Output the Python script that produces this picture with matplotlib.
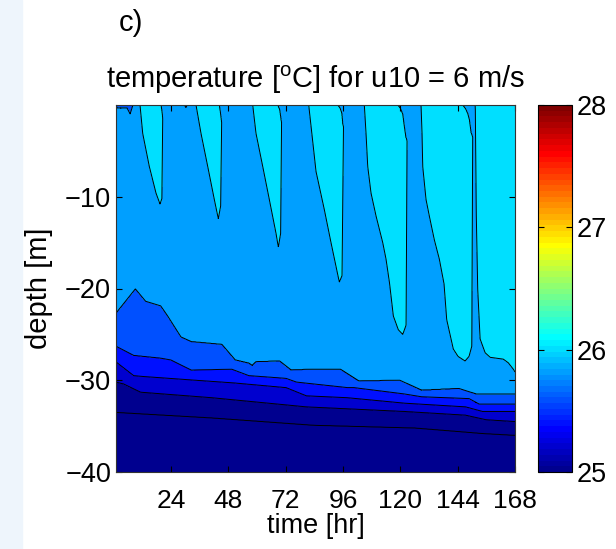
import numpy as np
import matplotlib
matplotlib.use('Agg')
import matplotlib.pyplot as plt
from matplotlib.colors import ListedColormap, Normalize
from matplotlib.cm import ScalarMappable
from matplotlib.patches import Rectangle

plt.rcParams['font.family'] = ['Liberation Sans', 'DejaVu Sans']
plt.rcParams['mathtext.fontset'] = 'custom'
plt.rcParams['mathtext.rm'] = 'Liberation Sans'

# isotherm depths [m] against time [hr]
t_iso250 = [1, 41, 83.6, 126.1, 154.4, 168]
d_iso250 = [33.5, 34.1, 34.9, 35.2, 35.8, 36.0]

t_iso252 = [1, 4.2, 11.3, 41, 80.7, 121.8, 147.3, 155.9, 168]
d_iso252 = [30.2, 30.4, 31.3, 31.9, 32.9, 33.4, 33.8, 34.3, 34.5]

t_iso254 = [1, 8.4, 12.7, 50.9, 72.2, 80.7, 97.7, 121.8, 147.3, 154.4, 168]
d_iso254 = [28.0, 29.5, 29.6, 30.3, 30.8, 31.7, 31.9, 32.5, 32.9, 33.4, 33.4]

t_iso256 = [1, 8.4, 19.7, 24, 32.5, 49.5, 56.6, 72.2, 76.5, 97.7, 100.6,
            121.8, 128.9, 148.8, 153, 168]
d_iso256 = [26.3, 27.3, 27.6, 27.8, 28.9, 28.8, 29.5, 29.8, 30.2, 30.8, 30.8,
            31.5, 31.8, 32.0, 32.6, 32.6]

t_iso258 = [1, 9.1, 13.4, 19.7, 22.6, 28.2, 32.5, 45.3, 50.9, 56.6, 58.0, 59.5,
            69.4, 74.3, 83.6, 94.9, 102.7, 119.7, 128.9, 144.5, 151.6, 168]
d_iso258 = [22.7, 20.05, 21.4, 21.9, 23.0, 25.3, 25.8, 26.1, 27.8, 28.15, 28.4, 28.0,
            27.9, 28.9, 28.8, 28.8, 30.1, 30.0, 31.1, 30.9, 31.5, 31.5]

# depth of the 26.0 isotherm (daytime warm tongues, negative = no tongue)
t_tongue = [1, 10.5, 11.05, 12.18, 14.94, 17.74, 19.42, 20.2, 20.6, 21.1,
            34.0, 34.49, 36.58, 39.39, 42.15, 43.82, 44.8, 45.3, 45.8,
            57.7, 58.22, 59.6, 62.41, 65.17, 67.98, 68.94, 69.9, 70.35, 70.85,
            81.2, 81.66, 84.72, 88.19, 90.99, 93.09, 94.47, 95.6, 96.3, 96.8,
            104.4, 104.94, 105.65, 106.36, 107.74, 109.84, 112.64, 114.02, 115.48,
            117.08, 119.17, 121.01, 122.4, 122.9, 123.4,
            128.2, 128.67, 129.09, 129.38, 130.76, 132.14, 134.24, 136.33, 138.3,
            139.42, 142.18, 144.16, 147.09, 148.76, 149.9, 150.35, 150.85,
            151.38, 151.8, 152.4, 153.4, 155.5, 157.6, 163.1, 165.2, 167.3, 168]
d_tongue = [-1, -1, 0, 3.1, 6.7, 9.6, 10.8, 10.2, 0, -1,
            -1, 0, 3.1, 6.7, 10.3, 12.4, 11.0, 0, -1,
            -1, 0, 3.1, 6.7, 10.3, 14.0, 15.5, 14.0, 0, -1,
            -1, 0, 7.25, 11.4, 15.0, 17.6, 19.3, 18.6, 0, -1,
            -1, 0, 3.1, 6.7, 9.6, 12.1, 15.0, 16.8, 19.4,
            23.0, 24.5, 25.0, 24.0, 0, -1,
            -1, 0, 3.1, 6.7, 10.3, 12.1, 14.7, 16.8, 19.5,
            23.4, 26.6, 27.4, 27.9, 27.4, 26.3, 0, -1,
            0, 12.0, 20.1, 25.5, 27.0, 27.5, 27.7, 28.1, 28.8, 29.1]

# evening surface cooling that rounds off the tongue tops (T < 26)
t_cap = [1, 19.7, 19.85, 20.3, 20.6, 21.0,
         44.1, 44.25, 44.9, 45.3, 45.6,
         68.55, 68.7, 69.5, 70.1, 70.4, 70.7,
         93.65, 93.8, 94.8, 95.5, 95.9, 96.4, 96.7,
         118.8, 118.9, 120.0, 121.0, 121.7, 122.3, 123.0, 123.3,
         146.0, 146.1, 147.3, 148.3, 148.9, 149.6, 150.3, 150.6, 168]
d_cap = [-0.1, -0.1, 0, 0.8, 1.5, -0.1,
         -0.1, 0, 1.2, 2.0, -0.1,
         -0.1, 0, 0.5, 1.6, 2.0, -0.1,
         -0.1, 0, 0.35, 0.9, 2.0, 2.5, -0.1,
         -0.1, 0, 0.35, 1.0, 2.4, 3.5, 4.0, -0.1,
         -0.1, 0, 0.4, 1.0, 1.6, 3.0, 3.5, -0.1, -0.1]

# thin cold surface patches (T < 25.8)
t_cold = [1, 1.4, 3.0, 5.6, 6.9, 8.1, 8.5, 29.5, 30.3, 31.0, 168]
d_cold = [-0.1, 0.3, 0.35, 0.3, 1.0, 0, -0.1, -0.1, 0.3, -0.1, -0.1]

levels = [24.0, 25.0, 25.2, 25.4, 25.6, 25.8, 26.0, 27.0]
line_levels = [25.0, 25.2, 25.4, 25.6, 25.8, 26.0]
cticks = [25, 26, 27, 28]
xticks = [24, 48, 72, 96, 120, 144, 168]
yticks = [-40, -30, -20, -10]


def matlab_jet(m=64):
    n = int(np.ceil(m / 4))
    u = np.r_[np.arange(1, n + 1) / n, np.ones(n - 1), np.arange(n, 0, -1) / n]
    g = int(np.ceil(n / 2)) - int(m % 4 == 1) + np.arange(1, len(u) + 1)
    r = g + n
    b = g - n
    J = np.zeros((m, 3))
    for ch, idx in ((0, r), (1, g), (2, b)):
        ok = (idx >= 1) & (idx <= m)
        J[idx[ok] - 1, ch] = u[ok]
    return ListedColormap(J)


jet = matlab_jet(64)

t = np.arange(1, 168.0001, 0.1)
z = np.linspace(-40, 0, 801)
T_grid, Z = np.meshgrid(t, z)

z250 = -np.interp(t, t_iso250, d_iso250)
z252 = -np.interp(t, t_iso252, d_iso252)
z254 = -np.interp(t, t_iso254, d_iso254)
z256 = -np.interp(t, t_iso256, d_iso256)
z258 = -np.interp(t, t_iso258, d_iso258)
z260 = -np.interp(t, t_tongue, d_tongue)
cap = np.interp(t, t_cap, d_cap)
cold = np.interp(t, t_cold, d_cold)

temp = np.empty_like(Z)
for j in range(len(t)):
    zn = [-40, z250[j], z252[j], z254[j], z256[j], z258[j]]
    temp[:, j] = np.interp(z, zn, [24.8, 25.0, 25.2, 25.4, 25.6, 25.8])

upper = 25.8 + 0.2 * (Z - z258[None, :]) / (z260[None, :] - z258[None, :])
temp = np.where(Z > z258[None, :], upper, temp)
temp = np.clip(temp, 24.5, 26.5)
depth = -Z
temp = np.where(depth < cap[None, :], np.minimum(temp, 25.9), temp)
temp = np.where(depth < cold[None, :], np.minimum(temp, 25.7), temp)

band_colors = [jet(int(np.clip(np.floor((lv - 25) / 3 * 64), 0, 63)))
               for lv in levels[:-1]]

fig = plt.figure(figsize=(6.16, 5.49), dpi=100)
fig.patches.append(Rectangle((0, 0), 0.035, 1, transform=fig.transFigure,
                             color='#eef5fc', zorder=-1))
ax = fig.add_axes([116 / 616, 1 - 472 / 549, 399 / 616, 367 / 549])
ax.contourf(t, z, temp, levels=levels, colors=band_colors)
ax.contour(t, z, temp, levels=line_levels, colors='k', linewidths=0.7)
ax.set_xlim(1, 168)
ax.set_ylim(-40, 0)
ax.set_xticks(xticks)
ax.set_yticks(yticks)
ax.tick_params(direction='in', length=4, top=True, right=True, labelsize=19.5)
ax.tick_params(axis='x', pad=12, labelsize=19)
for s in ax.spines.values():
    s.set_linewidth(0.8)
    s.set_color('#333333')
ax.set_xlabel('time [hr]', fontsize=19.5, labelpad=0)
ax.set_ylabel('depth [m]', fontsize=21, labelpad=9)
ax.set_title(r'temperature [$^{\mathrm{o}}$C] for u10 = 6 m/s', fontsize=21, pad=12)
fig.text(119 / 616, 1 - 31 / 549, 'c)', fontsize=21)

cax = fig.add_axes([538 / 616, 1 - 472 / 549, 34 / 616, 367 / 549])
sm = ScalarMappable(norm=Normalize(25, 28), cmap=jet)
cb = fig.colorbar(sm, cax=cax, ticks=cticks)
cb.outline.set_linewidth(0.8)
cax.tick_params(direction='in', length=4, left=True, right=True, labelsize=19.5)

fig.savefig('out.png', dpi=100)
